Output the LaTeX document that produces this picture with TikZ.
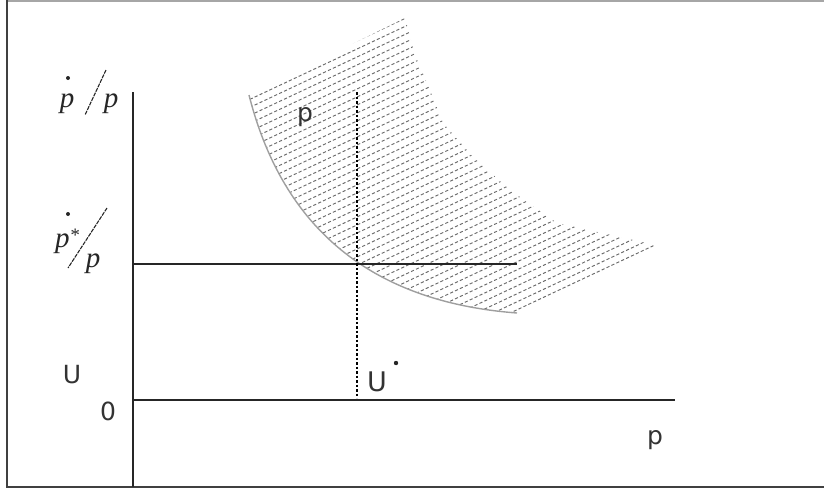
\documentclass[tikz,border=0pt]{standalone}
\usepackage{fontspec}
\setmainfont{Liberation Serif}
\newfontfamily\labsans{DejaVu Sans}
\begin{document}
\begin{tikzpicture}[x=1pt,y=-1pt,
  axisline/.style={line width=1.4pt,black!85},
  frameline/.style={line width=2pt,black!75},
  hatchline/.style={black!58,line width=0.95pt,dash pattern=on 3.2pt off 2.2pt},
  sanslab/.style={font=\labsans\fontsize{25}{25}\selectfont,text=black!80,inner sep=0pt,anchor=base},
  seriflab/.style={font=\fontsize{29}{29}\selectfont\itshape,text=black!85,inner sep=0pt,anchor=base},
  slashline/.style={line width=1.1pt,black!85,dash pattern=on 4pt off 1pt}]
\useasboundingbox (0,0) rectangle (824,491);
% frame
\draw[gray!70,line width=1.5pt] (7,1) -- (824,1);
\draw[frameline] (7,0) -- (7,488);
\draw[frameline] (6,487) -- (824,487);
% hatched region
\begin{scope}
  \clip (249,95) .. controls (283,229) and (372,302) .. (517,313)
    -- (663,247) -- (620,237) -- (557,223) -- (510,190) -- (473,157)
    -- (443,123) -- (430,90) -- (415,55) -- (405,18) -- cycle;
  \foreach \c in {41,49,...,394}
    \draw[hatchline] (240,{\c-0.47*(240-357)}) -- (680,{\c-0.47*(680-357)});
\end{scope}
\draw[gray!75,line width=1.4pt] (249,95) .. controls (283,229) and (372,302) .. (517,313);
% axes
\coordinate (ytop) at (133,92);
\coordinate (ybot) at (133,487);
\coordinate (xend) at (675,400);
\coordinate (origin) at (133,400);
\coordinate (hl) at (133,264);
\coordinate (hr) at (517,264);
\coordinate (vtop) at (357,92);
\coordinate (vbot) at (357,398);
\draw[axisline] (ytop) -- (ybot);
\draw[axisline] (origin) -- (xend);
\draw[axisline] (hl) -- (hr);
\draw[black,line width=1.3pt,dash pattern=on 2.5pt off 2pt] (vtop) -- (vbot);
% left labels
\node[seriflab] (pa) at (67,107) {p};
\fill[black!85] (68,78) circle (2pt);
\draw[slashline] (106,70) -- (85,115);
\node[seriflab] (pb) at (111,107) {p};
\node[seriflab] (pc) at (67,247) {p\raisebox{0.4ex}{\fontsize{19}{19}\selectfont *}};
\fill[black!85] (68,214) circle (2pt);
\draw[slashline] (107,208) -- (68,268);
\node[seriflab] (pd) at (93,267) {p};
% sans labels
\node[sanslab] (U) at (72,383) {U};
\node[sanslab] (zero) at (108,420) {0};
\node[sanslab,font=\labsans\fontsize{27}{27}\selectfont] (Us) at (377,391) {U};
\fill[black!85] (396,363) circle (2.2pt);
\node[sanslab] (pin) at (305,121) {p};
\node[sanslab] (px) at (655,444) {p};
\end{tikzpicture}
\end{document}
